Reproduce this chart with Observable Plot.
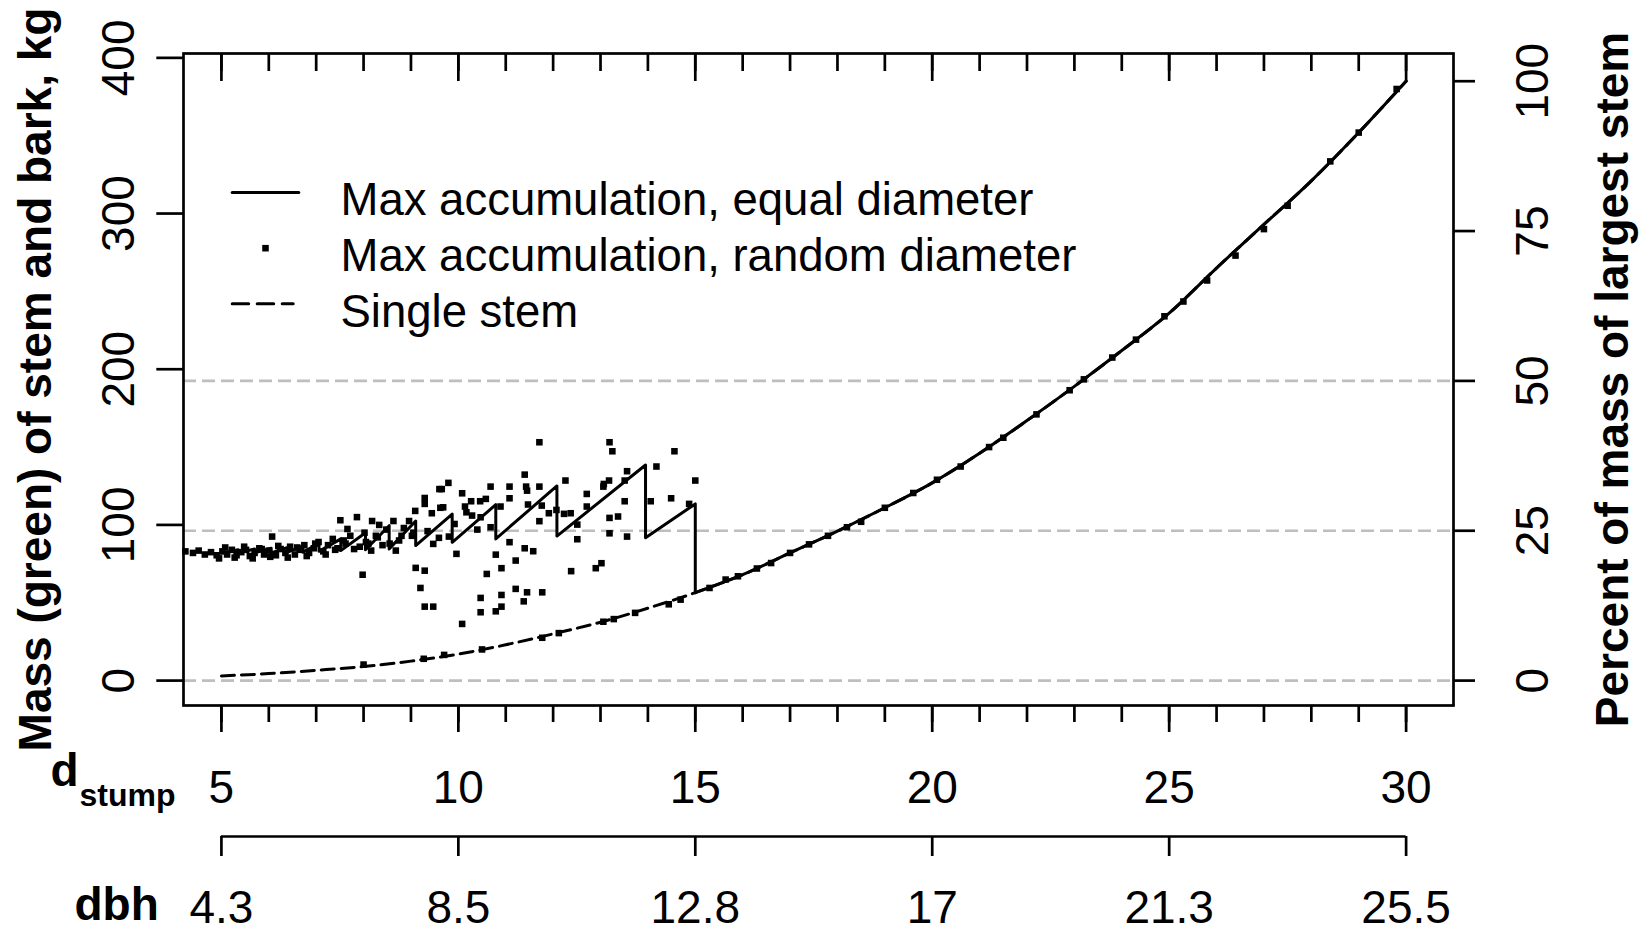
<!DOCTYPE html>
<html><head><meta charset="utf-8">
<script src="https://cdn.jsdelivr.net/npm/d3@7"></script>
<script src="https://cdn.jsdelivr.net/npm/@observablehq/plot@0.6"></script>
<style>html,body{margin:0;padding:0;background:#fff;}</style>
</head><body><div id="chart"></div>
<script>
// ---- data ----
// single stem mass (kg) by stump diameter
const singleD = [5,6,7,8,9,10,11,12,13,14,15,16,17,18,19,20,21,22,23,24,25,26,27,28,29,30];
const singleV = [3,4.5,6.6,9,12.5,17,23,30,37.5,46.5,56.5,68,82,96,111,127,146,167,189,212,236,265,293,321,352,385];
// max accumulation, equal diameter (sawtooth vertices, d < 15)
const sawD = [5.00,5.35,5.35,5.70,5.70,6.05,6.05,6.40,6.40,6.72,6.72,7.06,7.06,7.52,7.52,8.04,8.04,8.54,8.54,9.10,9.10,9.87,9.87,10.79,10.79,12.08,12.08,13.95,13.95,15.00,15.00];
const sawV = [82,84,82,84.5,82,85,82,85.5,82.5,86.5,82.5,88,83,91,83.5,95,84,99.5,84.6,102.5,86.7,107,88.8,113,91,125,92.8,138.5,91.8,113.5,56.5];
// max accumulation, random diameter (points)
const randD = [4.24,4.40,4.52,4.65,4.78,4.90,5.02,5.12,5.22,5.32,5.42,5.52,5.60,5.70,5.80,5.90,6.00,6.07,6.15,6.25,6.35,6.45,6.55,6.65,6.75,6.85,6.95,7.05,7.15,7.25,7.35,7.45,7.51,7.62,7.66,7.72,7.86,7.92,7.98,8.02,8.10,8.16,8.18,8.26,8.33,8.40,8.48,8.63,8.68,8.75,8.85,8.96,9.02,9.09,9.10,9.20,9.29,9.29,9.29,9.29,9.47,9.44,9.62,9.65,9.60,9.79,9.68,9.47,9.59,9.80,9.92,9.96,
 4.95,5.08,5.28,5.48,5.66,5.85,6.03,6.20,6.40,6.60,6.80,6.98,7.20,7.40,7.58,7.80,8.05,8.30,8.55,8.80,9.05,9.35,
 10.08,10.14,10.27,10.17,10.46,10.58,10.68,10.29,10.47,10.40,10.68,11.08,11.08,10.89,11.08,10.79,10.60,10.91,11.21,11.40,11.43,11.45,11.47,11.40,11.58,11.71,11.71,11.71,11.76,11.91,12.26,12.07,12.23,12.37,12.51,12.51,12.71,12.71,13.07,13.18,13.06,13.19,13.25,13.56,13.51,13.51,13.19,13.37,13.19,13.56,14.18,14.06,14.49,14.56,15.00,14.87,12.38,12.90,13.02,
 10.47,10.91,11.21,11.45,11.77,11.38,10.47,10.79,10.91,10.08,
 8.0,9.27,9.70,10.50,11.77,12.12,13.06,13.28,13.73,14.44,14.69,
 15.3,15.64,15.9,16.3,16.6,17.0,17.4,17.8,18.2,18.5,19.0,19.6,20.1,20.6,21.2,21.5,22.2,22.9,23.2,23.8,24.3,24.9,25.3,25.8,26.4,27.0,27.5,28.4,29.0,29.8];
const randV = [83,82,83.5,81,82.5,80.5,83,81,84,80.5,82.5,84,80,82,85,81,83.5,92.5,80.5,84.5,82,86,81,84,87,82,85,89,83,87,91,85,103,88,97.4,93,105,86,68,95,88,83.5,102.5,93,100,87,97,102.5,83.5,90,98,102.5,93,109,72.4,59.5,117.3,113.5,70.6,47.5,47.5,107.5,111,123,123,127,111.3,87.8,91.7,92.5,100.6,81.4,
 78.5,85.5,79,86,78.5,84.5,79.5,86.5,79,85.5,80,88,81,84,90,84.5,89,92,88,93,95,96,
 120.3,111.8,115.2,108.1,115.2,116.7,124.6,106,104.9,97,98.5,124.6,117.1,111.8,88.9,80.9,68.5,72.2,77.1,132.3,124.6,122,113.1,85,83.1,153.1,124.6,102.4,112.4,107.5,128.5,109.6,107.1,107.5,100.2,90.8,119.9,111.8,126.3,128.5,124.6,153.1,147.3,134.5,128.5,115.2,104.5,105.4,94.6,92.5,137.5,115.2,117.1,147.3,128.5,113.5,70.3,72.2,75.4,
 53.1,55,58.9,56.7,56.7,50.9,43.9,44.5,47.5,36.4,
 10.3,14,16.5,20,27.5,30.5,37.8,39.5,43.5,49,52,
 59.5,64.9,67,72,75.5,82,87.5,93,98.5,102,111,120.5,129,137.5,150,156,171,186.5,193.5,207.5,219,234,243.5,257,273,290,305,333.5,352,380];
// axes
const majorTicks = [5,10,15,20,25,30];
const minorTicks = [5,6,7,8,9,10,11,12,13,14,15,16,17,18,19,20,21,22,23,24,25,26,27,28,29,30];
const dbhLabels = ["4.3","8.5","12.8","17","21.3","25.5"];
const massTicks = [0,100,200,300,400];
const pctTicks = [0,25,50,75,100];
const refPct = [0,25,50];
const legendLabels = ["Max accumulation, equal diameter","Max accumulation, random diameter","Single stem"];
const yTitle = "Mass (green) of stem and bark, kg";
const y2Title = "Percent of mass of largest stem";

// ---- build ----
const maxMass = d3.max(singleV);
const single = singleD.map((d, i) => ({d, v: singleV[i]}));
const tail = single.filter(p => p.d >= 15);
const saw = sawD.map((d, i) => ({d, v: sawV[i]}));
const rand = randD.map((d, i) => ({d, v: randV[i]}));
const xDomain = [4.2, 31.0];
const yDomain = [-16, 402.8];
const LW = 2.7;
const lineShape = {draw(ctx, l) { ctx.moveTo(0, 0); ctx.lineTo(0, -l); }};
const font = "'Liberation Sans', Arial, Helvetica, sans-serif";

const plot = Plot.plot({
  width: 1641, height: 931,
  marginLeft: 183, marginRight: 188, marginTop: 53, marginBottom: 226,
  x: {domain: xDomain, label: null},
  y: {domain: yDomain, label: null},
  style: {fontFamily: font, background: "white", color: "black", overflow: "visible"},
  marks: [
    Plot.ruleY(refPct.map(p => p * maxMass / 100), {stroke: "#bebebe", strokeWidth: 2.7, strokeDasharray: "13,6"}),
    Plot.line(single, {x: "d", y: "v", stroke: "black", strokeWidth: 3, strokeDasharray: "13,7", curve: "monotone-x"}),
    Plot.line(saw, {x: "d", y: "v", stroke: "black", strokeWidth: 3}),
    Plot.line(tail, {x: "d", y: "v", stroke: "black", strokeWidth: 3, curve: "monotone-x"}),
    Plot.dot(rand, {x: "d", y: "v", symbol: "square", r: 3.7, fill: "black", stroke: null}),
    Plot.frame({stroke: "black", strokeWidth: LW}),
    // bottom d_stump axis
    Plot.axisX(minorTicks, {anchor: "bottom", label: null, tickSize: 17, strokeWidth: LW, tickFormat: () => ""}),
    Plot.axisX(majorTicks, {anchor: "bottom", label: null, tickSize: 27, tickPadding: 38, strokeWidth: LW, fontSize: 46}),
    // top inward ticks
    Plot.axisX(minorTicks, {anchor: "top", label: null, tickSize: -17, strokeWidth: LW, tickFormat: () => ""}),
    Plot.axisX(majorTicks, {anchor: "top", label: null, tickSize: -27, strokeWidth: LW, tickFormat: () => ""}),
    // dbh axis
    Plot.ruleY([yDomain[0]], {x1: majorTicks[0], x2: majorTicks[majorTicks.length - 1], dy: 131, stroke: "black", strokeWidth: LW, clip: false}),
    Plot.axisX(majorTicks, {anchor: "bottom", label: null, dy: 131, tickSize: 20, tickPadding: 34, strokeWidth: LW, fontSize: 46,
      tickFormat: d => dbhLabels[majorTicks.indexOf(d)]}),
    // left axis
    Plot.axisY(massTicks, {anchor: "left", label: null, tickSize: 26.7, strokeWidth: LW, tickFormat: () => ""}),
    Plot.text(massTicks, {y: d => d, text: d => String(d), frameAnchor: "left", dx: -50, rotate: -90,
      textAnchor: "middle", lineAnchor: "bottom", fontSize: 46}),
    // right axis
    Plot.axisY(pctTicks.map(p => p * maxMass / 100), {anchor: "right", label: null, tickSize: 21, strokeWidth: LW, tickFormat: () => ""}),
    Plot.text(pctTicks, {y: p => p * maxMass / 100, text: p => String(p), frameAnchor: "right", dx: 94, rotate: -90,
      textAnchor: "middle", lineAnchor: "bottom", fontSize: 46}),
    // titles
    Plot.text([yTitle], {text: d => d, frameAnchor: "left", dx: -133, rotate: -90, textAnchor: "middle",
      lineAnchor: "bottom", fontSize: 46, fontWeight: "bold"}),
    Plot.text([y2Title], {text: d => d, frameAnchor: "right", dx: 174, rotate: -90, textAnchor: "middle",
      lineAnchor: "bottom", fontSize: 46, fontWeight: "bold"}),
    Plot.text(["d"], {text: d => d, frameAnchor: "bottom-left", dx: -133, dy: 80, textAnchor: "start",
      lineAnchor: "bottom", fontSize: 46, fontWeight: "bold"}),
    Plot.text(["stump"], {text: d => d, frameAnchor: "bottom-left", dx: -104, dy: 100, textAnchor: "start",
      lineAnchor: "bottom", fontSize: 32, fontWeight: "bold"}),
    Plot.text(["dbh"], {text: d => d, frameAnchor: "bottom-left", dx: -109, dy: 214, textAnchor: "start",
      lineAnchor: "bottom", fontSize: 46, fontWeight: "bold"}),
    // legend
    Plot.vector([0], {frameAnchor: "top-left", dx: 48.7, dy: 139, length: 66.6, rotate: 90, anchor: "start",
      shape: lineShape, stroke: "black", strokeWidth: 3}),
    Plot.dot([0], {frameAnchor: "top-left", dx: 82, dy: 194.7, symbol: "square", r: 3.7, fill: "black", stroke: null}),
    Plot.vector([0], {frameAnchor: "top-left", dx: 48.7, dy: 250.3, length: 61, rotate: 90, anchor: "start",
      shape: lineShape, stroke: "black", strokeWidth: 3, strokeDasharray: "16.5,8.5"}),
    Plot.text([legendLabels.join("\n")], {text: d => d, frameAnchor: "top-left", dx: 157, dy: 121,
      textAnchor: "start", lineAnchor: "top", lineHeight: 1.2385, fontSize: 45.5})
  ]
});
document.getElementById("chart").appendChild(plot);
</script>
</body></html>
